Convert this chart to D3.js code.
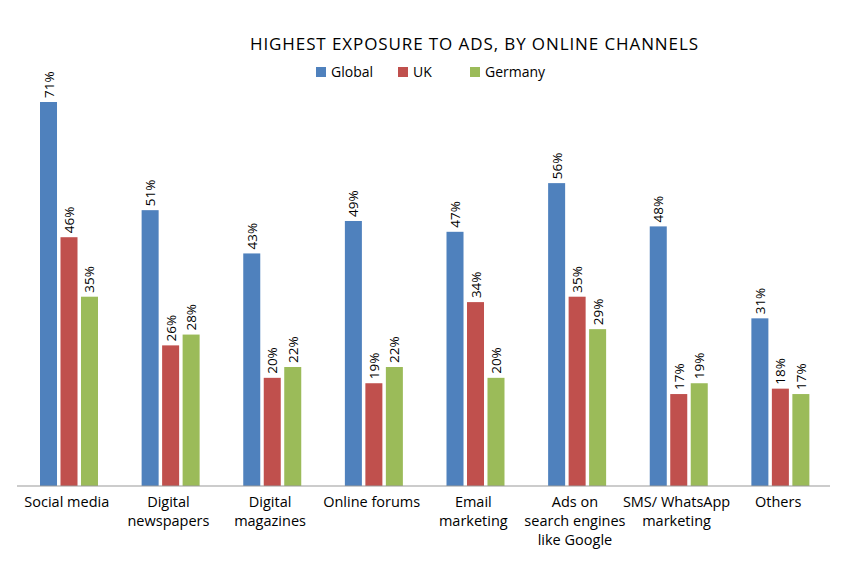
<!DOCTYPE html>
<html><head><meta charset="utf-8">
<script src="https://cdn.jsdelivr.net/npm/d3@7"></script>
<style>body{margin:0;background:#fff}text{font-family:"Open Sans",sans-serif}</style>
</head><body><svg id="c" width="842" height="561"></svg>
<script>
const categories = [["Social media"], ["Digital", "newspapers"], ["Digital", "magazines"], ["Online forums"],
  ["Email", "marketing"], ["Ads on", "search engines", "like Google"], ["SMS/ WhatsApp", "marketing"], ["Others"]]
const series = ["Global", "UK", "Germany"]
const colors = ["#4F81BD", "#C0504D", "#9BBB59"]
const globalVals = [71, 51, 43, 49, 47, 56, 48, 31]
const ukVals = [46, 26, 20, 19, 34, 35, 17, 18]
const germanyVals = [35, 28, 22, 22, 20, 29, 19, 17]
const values = [globalVals, ukVals, germanyVals]

const svg = d3.select("#c")
const base = 486
let x = d3.scaleBand().domain(d3.range(categories.length)).range([17, 830])
let inner = d3.scaleBand().domain(d3.range(series.length)).range([23, 81]).paddingInner(0.17)
let y = d3.scaleLinear().domain([0, 71]).range([base, 102])

svg.append("text").attr("x", 474).attr("y", 50).attr("text-anchor", "middle")
  .attr("font-size", 17).attr("textLength", 448).attr("fill", "#000").text("HIGHEST EXPOSURE TO ADS, BY ONLINE CHANNELS")

let legendX = [316, 398, 470]
series.forEach((s, i) => {
  svg.append("rect").attr("x", legendX[i]).attr("y", 67).attr("width", 10).attr("height", 10).attr("fill", colors[i])
  svg.append("text").attr("x", legendX[i] + 15).attr("y", 77).attr("font-size", 14).text(s)
})

series.forEach((s, si) => {
  let g = svg.append("g")
  g.selectAll("rect").data(values[si]).join("rect")
    .attr("x", (d, i) => x(i) + inner(si))
    .attr("y", d => y(d))
    .attr("width", inner.bandwidth())
    .attr("height", d => base - y(d))
    .attr("fill", colors[si])
  g.selectAll("text").data(values[si]).join("text")
    .attr("transform", (d, i) => `translate(${x(i) + inner(si) + inner.bandwidth() / 2 + 5},${y(d) - 4}) rotate(-90)`)
    .attr("font-size", 13.5).text(d => d + "%")
})

svg.append("line").attr("x1", 17).attr("x2", 830).attr("y1", base).attr("y2", base).attr("stroke", "#999")

categories.forEach((lines, i) => {
  let t = svg.append("text").attr("text-anchor", "middle").attr("font-size", 14.5)
  lines.forEach((l, j) => t.append("tspan").attr("x", x(i) + x.bandwidth() / 2 - 1).attr("y", 507 + j * 19).text(l))
})
</script></body></html>
